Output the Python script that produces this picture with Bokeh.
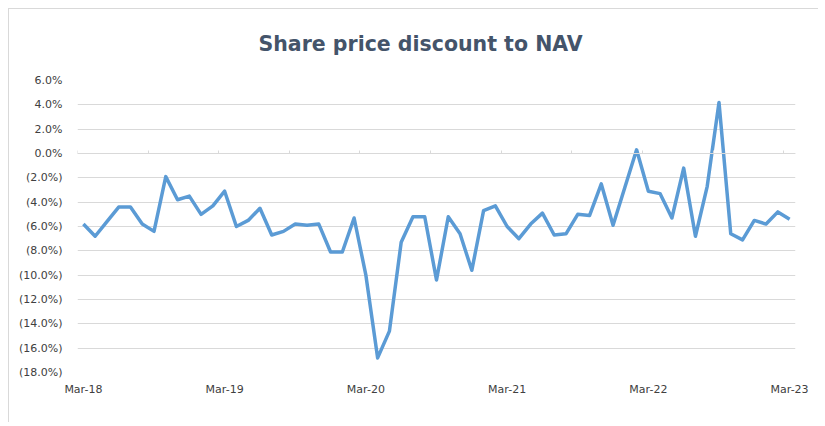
from bokeh.plotting import figure
from bokeh.models import (Range1d, FixedTicker, CustomJSTickFormatter, LinearAxis,
                          ColumnDataSource, Title)
from bokeh.embed import file_html
from bokeh.resources import INLINE

# Monthly share price discount to NAV (%), Mar-18 .. Mar-23
months = ["Mar-18", "Apr-18", "May-18", "Jun-18", "Jul-18", "Aug-18", "Sep-18", "Oct-18",
          "Nov-18", "Dec-18", "Jan-19", "Feb-19", "Mar-19", "Apr-19", "May-19", "Jun-19",
          "Jul-19", "Aug-19", "Sep-19", "Oct-19", "Nov-19", "Dec-19", "Jan-20", "Feb-20",
          "Mar-20", "Apr-20", "May-20", "Jun-20", "Jul-20", "Aug-20", "Sep-20", "Oct-20",
          "Nov-20", "Dec-20", "Jan-21", "Feb-21", "Mar-21", "Apr-21", "May-21", "Jun-21",
          "Jul-21", "Aug-21", "Sep-21", "Oct-21", "Nov-21", "Dec-21", "Jan-22", "Feb-22",
          "Mar-22", "Apr-22", "May-22", "Jun-22", "Jul-22", "Aug-22", "Sep-22", "Oct-22",
          "Nov-22", "Dec-22", "Jan-23", "Feb-23", "Mar-23"]
discount = [-5.8, -6.8, -5.6, -4.4, -4.4, -5.8, -6.4, -1.9, -3.8, -3.5, -5.0, -4.3,
            -3.1, -6.0, -5.5, -4.5, -6.7, -6.4, -5.8, -5.9, -5.8, -8.1, -8.1, -5.3,
            -10.0, -16.8, -14.6, -7.3, -5.2, -5.2, -10.4, -5.2, -6.6, -9.6, -4.7, -4.3,
            -6.0, -7.0, -5.8, -4.9, -6.7, -6.6, -5.0, -5.1, -2.5, -5.9, -2.8, 0.3,
            -3.1, -3.3, -5.3, -1.2, -6.8, -2.7, 4.2, -6.6, -7.1, -5.5, -5.8, -4.8, -5.4]
x_labels = ["Mar-18", "Mar-19", "Mar-20", "Mar-21", "Mar-22", "Mar-23"]
y_ticks = [6, 4, 2, 0, -2, -4, -6, -8, -10, -12, -14, -16, -18]
title_text = "Share price discount to NAV"

idx = list(range(len(months)))
src = ColumnDataSource(dict(x=idx, y=discount, month=months))

label_pos = [months.index(m) for m in x_labels]
boundary_ticks = [i - 0.5 for i in idx if i % 6 == 0]

GRID = "#d9d9d9"
TXT = "#404040"
FONT = "DejaVu Sans"

p = figure(width=810, height=414, output_backend="svg", toolbar_location=None,
           x_range=Range1d(-0.5, len(months) - 0.5), y_range=Range1d(-18, 6),
           min_border_left=68, min_border_right=24, min_border_top=70, min_border_bottom=51,
           x_axis_type=None, y_axis_location="left")
p.outline_line_color = None
p.background_fill_color = "white"
p.border_fill_color = "white"

t = Title(text=title_text, text_font=FONT, text_font_size="20.5px",
          text_font_style="bold", text_color="#44546A", align="left", offset=181,
          standoff=45, vertical_align="top")
p.add_layout(t, "above")

# y axis
p.yaxis.ticker = FixedTicker(ticks=y_ticks)
p.yaxis.formatter = CustomJSTickFormatter(code="""
    const v = Math.abs(tick).toFixed(1) + '%';
    return tick < 0 ? '(' + v + ')' : v;
""")
p.yaxis.axis_line_color = None
p.yaxis.major_tick_line_color = None
p.yaxis.minor_tick_line_color = None
p.yaxis.major_label_text_font = FONT
p.yaxis.major_label_text_font_size = "11px"
p.yaxis.major_label_text_color = TXT
p.yaxis.major_label_standoff = 9
p.ygrid.ticker = FixedTicker(ticks=y_ticks)
p.ygrid.grid_line_color = GRID
p.ygrid.grid_line_width = 1

# bottom labels axis
xa = LinearAxis(ticker=FixedTicker(ticks=label_pos),
                major_label_overrides={i: m for i, m in zip(label_pos, x_labels)})
xa.axis_line_color = None
xa.major_tick_line_color = None
xa.minor_tick_line_color = None
xa.major_label_text_font = FONT
xa.major_label_text_font_size = "11px"
xa.major_label_text_color = TXT
xa.major_label_standoff = 4
p.add_layout(xa, "below")

# axis crossing at zero with tick marks on category boundaries
za = LinearAxis(ticker=FixedTicker(ticks=boundary_ticks), fixed_location=0)
za.axis_line_color = GRID
za.major_tick_line_color = GRID
za.major_tick_in = 3
za.major_tick_out = 0
za.minor_tick_line_color = None
za.major_label_text_font_size = "0px"
za.major_label_text_alpha = 0
p.add_layout(za, "below")

p.line("x", "y", source=src, line_color="#5B9BD5", line_width=3.5, line_join="round")

p.styles = {"border-left": "1px solid #d9d9d9", "border-top": "1px solid #d9d9d9",
            "margin-top": "8px", "margin-left": "8px"}

open("out.html", "w").write(file_html(p, INLINE))
